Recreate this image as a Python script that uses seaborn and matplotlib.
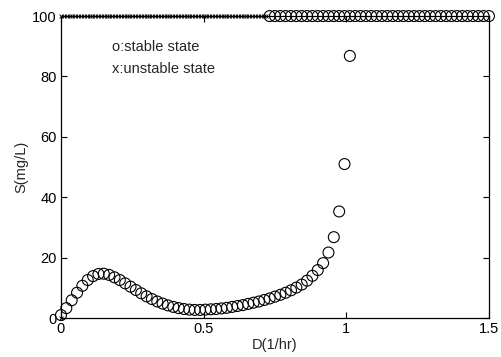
import numpy as np
import pandas as pd
import matplotlib
matplotlib.use('Agg')
import matplotlib.pyplot as plt
import seaborn as sns

# stable branch (D grid step 0.01875)
d_step = 0.01875
S_stable = [1.0, 3.3, 5.9, 8.4, 10.7, 12.6, 13.9, 14.6, 14.7, 14.3,
            13.5, 12.6, 11.5, 10.4, 9.3, 8.2, 7.2, 6.3, 5.5, 4.8,
            4.2, 3.7, 3.3, 3.0, 2.8, 2.7, 2.7, 2.8, 2.9, 3.0,
            3.2, 3.4, 3.7, 4.0, 4.3, 4.7, 5.1, 5.5, 6.0, 6.5,
            7.1, 7.7, 8.4, 9.2, 10.1, 11.1, 12.4, 14.0, 15.9, 18.2,
            21.7, 26.8, 35.3, 51.0, 86.8]
D_stable = np.arange(len(S_stable)) * d_step

# washout branch (stable) at S = 100 from D ~ 0.73 to 1.5
D_wash = np.arange(39, 81) * d_step
S_wash = [100.0] * len(D_wash)

# unstable states
D_unst = np.append(np.arange(0, 73) * 0.01, 0.0)
S_unst = [100.0] * 73 + [0.0]

stable = pd.DataFrame({'D': np.concatenate([D_stable, D_wash]),
                       'S': S_stable + S_wash})
unstable = pd.DataFrame({'D': D_unst, 'S': S_unst})

sns.set_theme(style='ticks')
plt.rcParams['font.family'] = ['Liberation Sans', 'DejaVu Sans']

fig = plt.figure(figsize=(5.02, 3.57), dpi=100)
ax = fig.add_axes([0.1215, 0.109, 0.8525, 0.846])

sns.scatterplot(data=stable, x='D', y='S', marker='o', s=62, facecolors='none',
                edgecolor='black', linewidth=0.8, ax=ax, clip_on=False, zorder=3)
sns.scatterplot(data=unstable, x='D', y='S', marker='x', s=8, color='black',
                linewidth=0.6, ax=ax, clip_on=False, zorder=3)

ax.set_xlim(0, 1.5)
ax.set_ylim(0, 100)
ax.set_xticks([0, 0.5, 1, 1.5])
ax.set_xticklabels(['0', '0.5', '1', '1.5'])
ax.set_yticks([0, 20, 40, 60, 80, 100])
ax.tick_params(direction='in', top=True, right=True, length=4, width=0.8,
               labelsize=10.5, colors='black', pad=3)
for sp in ax.spines.values():
    sp.set_visible(True)
    sp.set_linewidth(0.9)
    sp.set_color('black')

ax.set_xlabel('D(1/hr)', fontsize=10.5, labelpad=1)
ax.set_ylabel('S(mg/L)', fontsize=10.5, labelpad=3)

ax.text(0.18, 89.7, 'o:stable state', fontsize=10.5, va='center', ha='left')
ax.text(0.18, 82.4, 'x:unstable state', fontsize=10.5, va='center', ha='left')

fig.savefig('out.png', dpi=100)
